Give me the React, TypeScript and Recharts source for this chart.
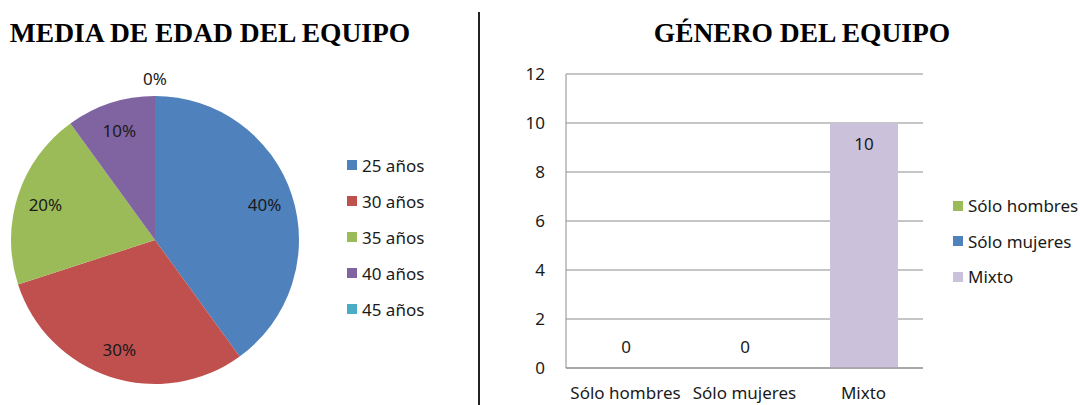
import React from 'react';
import { PieChart, Pie, Cell, Legend, BarChart, Bar, XAxis, YAxis, CartesianGrid, LabelList } from 'recharts';

// pie: average age of the team
const ageNames = ['25 años', '30 años', '35 años', '40 años', '45 años'];
const agePercents = [40, 30, 20, 10, 0];
const ageColors = ['#4F81BD', '#C0504D', '#9BBB59', '#8064A2', '#4BACC6'];

// bars: gender of the team
const genderNames = ['Sólo hombres', 'Sólo mujeres', 'Mixto'];
const genderCounts = [0, 0, 10];
const genderColors = ['#9BBB59', '#4F81BD', '#CCC1DA'];
const genderTicks = [0, 2, 4, 6, 8, 10, 12];

const RADIAN = Math.PI / 180;
const sansFont = '"Noto Sans", "Open Sans", sans-serif';
const textSize = 17;
const titleStyle: React.CSSProperties = {
  position: 'absolute',
  top: 19,
  fontFamily: '"Liberation Serif", "Times New Roman", serif',
  fontWeight: 'bold',
  fontSize: 27.5,
  lineHeight: '27px',
  color: '#000',
  whiteSpace: 'nowrap',
  transform: 'translateX(-50%)',
};

function SideLegend({ names, colors, rowHeight }: { names: string[]; colors: string[]; rowHeight: number }) {
  return (
    <div style={{ fontFamily: sansFont, fontSize: textSize, color: '#1a1a1a' }}>
      {names.map((n, i) => (
        <div key={n} style={{ height: rowHeight, display: 'flex', alignItems: 'center' }}>
          <span style={{ width: 10, height: 10, background: colors[i], marginRight: 5, display: 'inline-block' }} />
          <span>{n}</span>
        </div>
      ))}
    </div>
  );
}

const pieLabel = (props: any) => {
  const { cx, cy, midAngle, outerRadius, value } = props;
  const r = value === 0 ? outerRadius + 18 : outerRadius * 0.8;
  const x = cx + r * Math.cos(-midAngle * RADIAN);
  const y = cy + r * Math.sin(-midAngle * RADIAN);
  return (
    <text x={x} y={y} textAnchor="middle" dominantBaseline="central" fontFamily={sansFont} fontSize={textSize} fill="#1a1a1a">
      {`${value}%`}
    </text>
  );
};

const barLabel = (props: any) => {
  const { x, y, width, height, value } = props;
  const ty = Number(value) === 0 ? y + height - 22 : y + 20;
  return (
    <text x={x + width / 2} y={ty} textAnchor="middle" dominantBaseline="central" fontFamily={sansFont} fontSize={textSize} fill="#1a1a1a">
      {value}
    </text>
  );
};

export default function App() {
  const pieData = ageNames.map((name, i) => ({ name, value: agePercents[i] }));
  const barData = genderNames.map((name, i) => ({ name, value: genderCounts[i] }));

  return (
    <div style={{ position: 'absolute', left: 0, top: 0, width: 1080, height: 405, background: '#fff', overflow: 'hidden' }}>
      <div style={{ ...titleStyle, left: 210 }}>MEDIA DE EDAD DEL EQUIPO</div>
      <div style={{ ...titleStyle, left: 802 }}>GÉNERO DEL EQUIPO</div>
      <div style={{ position: 'absolute', left: 478, top: 12, width: 2, height: 393, background: '#222' }} />

      <div style={{ position: 'absolute', left: 0, top: 0 }}>
        <PieChart width={478} height={405} margin={{ top: 0, right: 0, bottom: 0, left: 0 }}>
          <Pie
            data={pieData}
            dataKey="value"
            nameKey="name"
            cx={155}
            cy={240}
            outerRadius={144}
            startAngle={90}
            endAngle={-270}
            stroke="none"
            label={pieLabel}
            labelLine={false}
            isAnimationActive={false}
          >
            {pieData.map((d, i) => (
              <Cell key={d.name} fill={ageColors[i]} />
            ))}
          </Pie>
          <Legend
            layout="vertical"
            align="center"
            verticalAlign="middle"
            wrapperStyle={{ left: 347, top: 147, width: 'auto' }}
            content={() => <SideLegend names={ageNames} colors={ageColors} rowHeight={36} />}
          />
        </PieChart>
      </div>

      <div style={{ position: 'absolute', left: 480, top: 0 }}>
        <BarChart width={600} height={405} data={barData} margin={{ top: 74, right: 157, bottom: 0, left: 0 }}>
          <CartesianGrid vertical={false} stroke="#8c8c8c" />
          <XAxis
            dataKey="name"
            stroke="#8c8c8c"
            tickLine={false}
            tickSize={0}
            tickMargin={19}
            interval={0}
            tick={{ fill: '#1a1a1a', fontFamily: sansFont, fontSize: textSize }}
            height={37}
          />
          <YAxis
            width={86}
            domain={[0, 12]}
            ticks={genderTicks}
            stroke="#8c8c8c"
            tickLine={false}
            tickSize={0}
            tickMargin={21}
            tick={{ fill: '#1a1a1a', fontFamily: sansFont, fontSize: textSize }}
          />
          <Bar dataKey="value" barSize={68} minPointSize={1} isAnimationActive={false}>
            {barData.map((d, i) => (
              <Cell key={d.name} fill={genderColors[i]} fillOpacity={d.value === 0 ? 0 : 1} />
            ))}
            <LabelList dataKey="value" content={barLabel} />
          </Bar>
          <Legend
            layout="vertical"
            align="center"
            verticalAlign="middle"
            wrapperStyle={{ left: 473, top: 188, width: 'auto' }}
            content={() => <SideLegend names={genderNames} colors={genderColors} rowHeight={35.5} />}
          />
        </BarChart>
      </div>
    </div>
  );
}
